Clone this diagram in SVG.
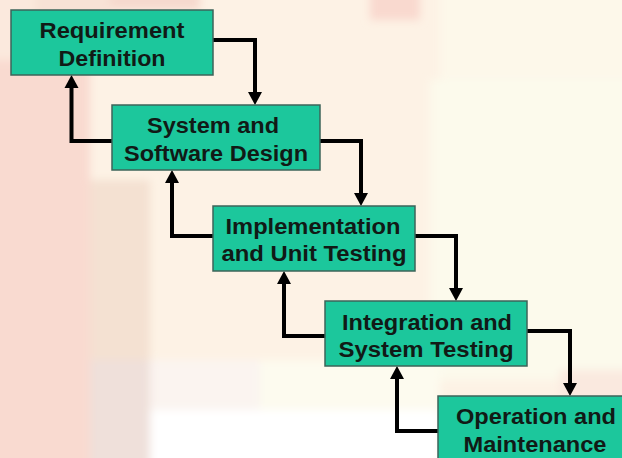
<svg xmlns="http://www.w3.org/2000/svg" width="622" height="458" viewBox="0 0 622 458">
  <style>
    .box { fill: #1cc79c; stroke: #3d6459; stroke-width: 1.5; }
    .lbl { font-family: "Liberation Sans", Arial, sans-serif; font-weight: bold; font-size: 22px; fill: #111a16; text-anchor: middle; }
    .conn { fill: none; stroke: #000; stroke-width: 4; stroke-linejoin: miter; }
  </style>
  <defs>
    <marker id="ah" markerUnits="userSpaceOnUse" markerWidth="15" markerHeight="15" refX="0" refY="7.5" orient="auto">
      <path d="M0,0.5 L13,7.5 L0,14.5 z" fill="#000"/>
    </marker>
    <filter id="soft" x="-20%" y="-20%" width="140%" height="140%">
      <feGaussianBlur stdDeviation="4"/>
    </filter>
  </defs>

  <!-- background -->
  <g id="background">
    <rect x="0" y="0" width="622" height="458" fill="#fdf2e5"/>
    <g filter="url(#soft)">
      <rect x="-20" y="60" width="110" height="420" fill="#f9dad0"/>
      <rect x="-20" y="-20" width="55" height="80" fill="#fbe9dd"/>
      <rect x="35" y="-20" width="75" height="80" fill="#f8e2d6"/>
      <rect x="110" y="-20" width="90" height="30" fill="#f6d9ce"/>
      <rect x="90" y="180" width="60" height="180" fill="#f4e1d2"/>
      <rect x="90" y="360" width="60" height="120" fill="#efe0da"/>
      <rect x="150" y="360" width="110" height="120" fill="#fbf4f0"/>
      <rect x="150" y="410" width="290" height="70" fill="#ffffff"/>
      <rect x="370" y="-20" width="50" height="40" fill="#f9d9cf"/>
      <rect x="440" y="-20" width="200" height="110" fill="#fdf8ea"/>
      <rect x="430" y="80" width="210" height="300" fill="#fcfaec"/>
      <rect x="560" y="370" width="80" height="30" fill="#fae9df"/>
      <rect x="260" y="360" width="180" height="50" fill="#fdfbef"/>
    </g>
  </g>

  <!-- connectors -->
  <g id="connectors">
    <path class="conn" d="M213,40 H255 V92" marker-end="url(#ah)"/>
    <path class="conn" d="M112,141 H71.5 V88" marker-end="url(#ah)"/>
    <path class="conn" d="M320,141 H361 V193" marker-end="url(#ah)"/>
    <path class="conn" d="M213,236 H172 V183" marker-end="url(#ah)"/>
    <path class="conn" d="M415,236 H456 V288" marker-end="url(#ah)"/>
    <path class="conn" d="M325,336 H284 V284" marker-end="url(#ah)"/>
    <path class="conn" d="M527,331 H570 V383" marker-end="url(#ah)"/>
    <path class="conn" d="M438,431 H397 V379" marker-end="url(#ah)"/>
  </g>

  <g id="requirement-definition">
    <rect class="box" x="11" y="10" width="202" height="65"/>
    <text class="lbl" x="112" y="38" textLength="145" lengthAdjust="spacingAndGlyphs">Requirement</text>
    <text class="lbl" x="112" y="65.5" textLength="107" lengthAdjust="spacingAndGlyphs">Definition</text>
  </g>

  <g id="system-software-design">
    <rect class="box" x="112" y="105" width="208" height="65"/>
    <text class="lbl" x="213" y="132.5" textLength="132" lengthAdjust="spacingAndGlyphs">System and</text>
    <text class="lbl" x="216" y="160.5" textLength="184" lengthAdjust="spacingAndGlyphs">Software Design</text>
  </g>

  <g id="implementation-unit-testing">
    <rect class="box" x="213" y="206" width="202" height="65"/>
    <text class="lbl" x="313" y="234" textLength="175" lengthAdjust="spacingAndGlyphs">Implementation</text>
    <text class="lbl" x="314" y="261" textLength="185" lengthAdjust="spacingAndGlyphs">and Unit Testing</text>
  </g>

  <g id="integration-system-testing">
    <rect class="box" x="325" y="301" width="202" height="65"/>
    <text class="lbl" x="427" y="329.5" textLength="170" lengthAdjust="spacingAndGlyphs">Integration and</text>
    <text class="lbl" x="426" y="357" textLength="175" lengthAdjust="spacingAndGlyphs">System Testing</text>
  </g>

  <g id="operation-maintenance">
    <rect class="box" x="438" y="396" width="196" height="70"/>
    <text class="lbl" x="536" y="424" textLength="160" lengthAdjust="spacingAndGlyphs">Operation and</text>
    <text class="lbl" x="535" y="452" textLength="143" lengthAdjust="spacingAndGlyphs">Maintenance</text>
  </g>
</svg>
